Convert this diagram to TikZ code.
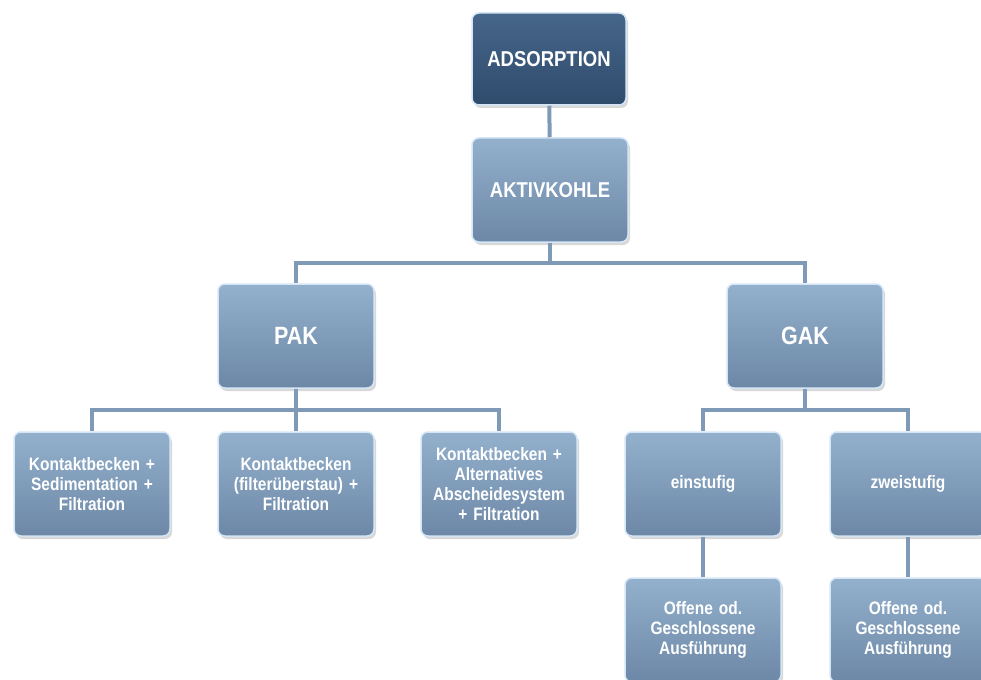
\documentclass[tikz,border=0pt]{standalone}
\usepackage{fontspec}
\newfontfamily\boxfont[FakeStretch=0.86]{Liberation Sans}
\usepackage{xcolor}
\usetikzlibrary{shadows}

\definecolor{boxtop}{HTML}{93B0CD}
\definecolor{boxbot}{HTML}{6C88A6}
\definecolor{darktop}{HTML}{46668A}
\definecolor{darkbot}{HTML}{2F4B6C}
\definecolor{linkcol}{HTML}{7F9AB6}
\definecolor{rimcol}{HTML}{D4E6F6}

\tikzset{
  box/.style={rectangle, rounded corners=7pt, minimum width=156pt, minimum height=104pt,
    top color=boxtop, bottom color=boxbot, draw=rimcol, line width=1.5pt,
    align=center, text=white, text width=150pt, inner sep=2pt,
    font=\boxfont\bfseries\fontsize{18}{20}\selectfont,
    drop shadow={shadow xshift=2pt, shadow yshift=-3pt, opacity=0.3}},
  darkbox/.style={box, top color=darktop, bottom color=darkbot, minimum height=92pt, minimum width=152pt},
  bigtext/.style={font=\boxfont\bfseries\fontsize{25}{28}\selectfont},
  midtext/.style={font=\boxfont\bfseries\fontsize{21.5}{24}\selectfont},
  link/.style={draw=linkcol, line width=4pt}
}

\begin{document}
\begin{tikzpicture}[x=1pt,y=-1pt]
		\useasboundingbox (0,0) rectangle (981,679);
		\fill [white] (0,0) rectangle (981,679);
		\clip (0,0) rectangle (981,679);
		% TOP
		\node [darkbox,midtext] (ads) at (549,59) {ADSORPTION};
		\node [box,midtext] (akt) at (550,190) {AKTIVKOHLE};
		% SECOND LEVEL
		\node [box,bigtext] (pak) at (296,336) {PAK};
		\node [box,bigtext] (gak) at (805,336) {GAK};
		% PAK BRANCH
		\node [box] (kont1) at (92,484) {Kontaktbecken +\\Sedimentation +\\Filtration};
		\node [box] (kont2) at (296,484) {Kontaktbecken\\(filterüberstau) +\\Filtration};
		\node [box] (kont3) at (499,484) {Kontaktbecken +\\Alternatives\\Abscheidesystem\\+ Filtration};
		% GAK BRANCH
		\node [box] (ein) at (703,484) {einstufig};
		\node [box] (zwei) at (908,484) {zweistufig};
		\node [box] (offen1) at (703,630) {Offene od.\\Geschlossene\\Ausführung};
		\node [box] (offen2) at (908,630) {Offene od.\\Geschlossene\\Ausführung};
		% CONNECTORS
		\coordinate (aktbar) at (550,263);
		\coordinate (pakbar) at (296,410);
		\coordinate (gakbar) at (805,410);
		\draw [link] (ads) -- (akt);
		\draw [link] (akt) -- (aktbar) -| (pak);
		\draw [link] (aktbar) -| (gak);
		\draw [link] (pak) -- (pakbar) -| (kont1);
		\draw [link] (pakbar) -- (kont2);
		\draw [link] (pakbar) -| (kont3);
		\draw [link] (gak) -- (gakbar) -| (ein);
		\draw [link] (gakbar) -| (zwei);
		\draw [link] (ein) -- (offen1);
		\draw [link] (zwei) -- (offen2);
\end{tikzpicture}
\end{document}
